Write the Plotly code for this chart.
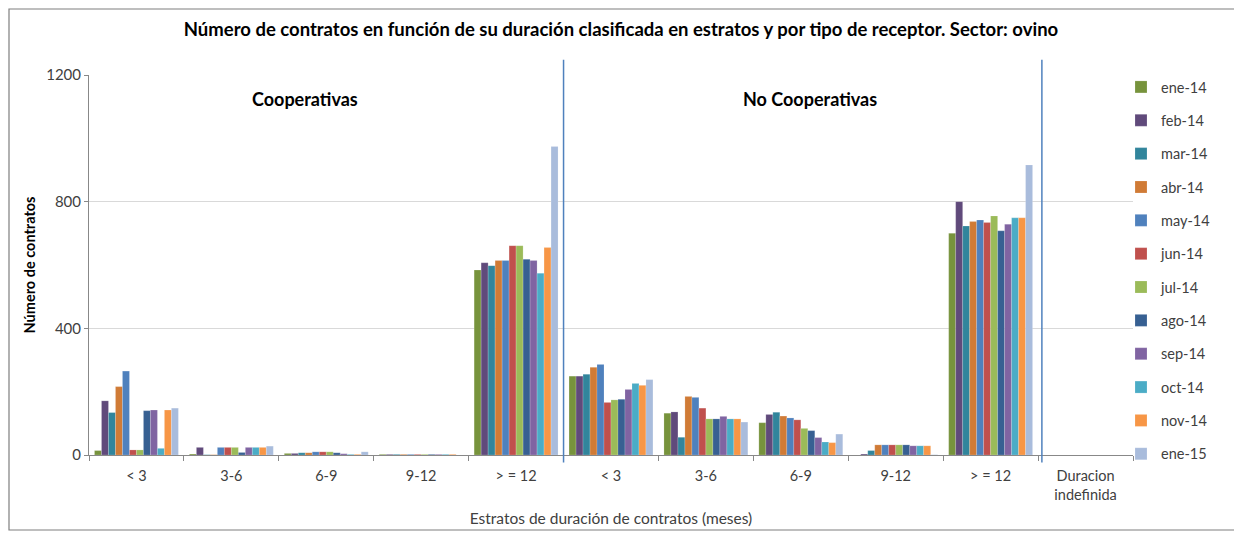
import plotly.graph_objects as go

categories = ["< 3", "3-6", "6-9", "9-12", "> = 12",
              "< 3 ", "3-6 ", "6-9 ", "9-12 ", "> = 12 ", "Duracion<br>indefinida"]
tick_labels = ["< 3", "3-6", "6-9", "9-12", "> = 12",
               "< 3", "3-6", "6-9", "9-12", "> = 12", "Duracion<br>indefinida"]

series_names = ["ene-14", "feb-14", "mar-14", "abr-14", "may-14", "jun-14",
                "jul-14", "ago-14", "sep-14", "oct-14", "nov-14", "ene-15"]

# values per series across the 11 categories
ene_14 = [14, 3, 5, 2, 584, 249, 132, 102, 0, 700, 0]
feb_14 = [171, 24, 5, 2, 607, 249, 136, 128, 3, 800, 0]
mar_14 = [134, 1, 7, 2, 598, 255, 56, 135, 14, 723, 0]
abr_14 = [216, 1, 7, 2, 614, 277, 185, 123, 32, 737, 0]
may_14 = [265, 24, 10, 2, 614, 286, 182, 117, 32, 742, 0]
jun_14 = [16, 24, 10, 2, 661, 166, 148, 111, 32, 734, 0]
jul_14 = [16, 24, 10, 2, 661, 174, 114, 84, 32, 755, 0]
ago_14 = [140, 8, 7, 2, 618, 176, 114, 77, 32, 708, 0]
sep_14 = [142, 24, 4, 2, 614, 207, 122, 55, 29, 729, 0]
oct_14 = [21, 24, 2, 2, 574, 226, 114, 41, 29, 749, 0]
nov_14 = [142, 24, 2, 2, 655, 220, 114, 39, 29, 749, 0]
ene_15 = [148, 28, 10, 0, 974, 238, 104, 66, 1, 916, 0]

series_values = [ene_14, feb_14, mar_14, abr_14, may_14, jun_14,
                 jul_14, ago_14, sep_14, oct_14, nov_14, ene_15]

colors = ["#77933C", "#604A7B", "#31859C", "#D07B36", "#4F81BD", "#C0504D",
          "#9BBB59", "#376092", "#8064A2", "#4BACC6", "#F79646", "#A9BCDC"]

fig = go.Figure()
for name, vals, col in zip(series_names, series_values, colors):
    fig.add_trace(go.Bar(
        x=categories, y=vals, name=name, legendgroup=name,
        marker=dict(color=col, line=dict(color="rgba(255,255,255,0.35)", width=0.5)),
    ))

font_family = "Lato, 'Open Sans', sans-serif"

W, H = 1234, 530          # page adds an 8px body margin
L, R, T, B = 81, 1125, 67, 447
PW, PH = R - L, B - T

fig.update_layout(
    width=W, height=H,
    margin=dict(l=L, r=W - R, t=T, b=H - B, autoexpand=False),
    paper_bgcolor="white", plot_bgcolor="white",
    barmode="group", bargap=0.116, bargroupgap=0,
    font=dict(family=font_family, size=14, color="#404040"),
    title=dict(
        text="<b>Número de contratos en función de su duración clasificada en estratos y por tipo de receptor. Sector: ovino</b>",
        x=(621 - 8) / W, xref="container", y=1 - 22 / H, yref="container",
        xanchor="center", yanchor="middle",
        font=dict(size=18.5, color="black", family=font_family),
    ),
    legend=dict(
        x=(1113 - L) / PW, xanchor="left",
        y=1 + (T - 63) / PH, yanchor="top",
        font=dict(size=14.5, color="#404040"),
        tracegroupgap=11.5, itemwidth=30, traceorder="grouped",
        bgcolor="rgba(0,0,0,0)", maxheight=500,
    ),
    showlegend=True,
)

fig.update_xaxes(
    type="category", automargin=False,
    tickmode="array", tickvals=categories, ticktext=tick_labels,
    tickson="boundaries", ticks="outside", ticklen=5, tickcolor="#888888",
    ticklabelstandoff=8,
    showline=True, linecolor="#888888", linewidth=1,
    showgrid=False,
    tickfont=dict(size=14.5, color="#404040"),
    title=dict(text="Estratos de duración de contratos (meses)",
               font=dict(size=15.5, color="#404040"), standoff=10),
)
fig.update_yaxes(
    range=[0, 1200], tickvals=[0, 400, 800, 1200], automargin=False,
    showgrid=True, gridcolor="#D9D9D9", gridwidth=1,
    ticks="outside", ticklen=4, tickcolor="#888888",
    showline=True, linecolor="#888888", linewidth=1,
    tickfont=dict(size=15, color="#404040"),
    zeroline=False,
    title=dict(text="<b>Número de contratos</b>", font=dict(size=14.5, color="black"), standoff=7),
)

# separators between groups
for xb in [4.5, 9.54]:
    fig.add_shape(type="line", xref="x", yref="paper",
                  x0=xb, x1=xb, y0=-0.02, y1=1.04,
                  line=dict(color="#4F81BD", width=1.5))

# group labels
fig.add_annotation(x=1.78, y=1 - (91 - T) / PH, xref="x", yref="paper",
                   yanchor="middle", xanchor="center",
                   text="<b>Cooperativas</b>", showarrow=False,
                   font=dict(size=18, color="black", family=font_family))
fig.add_annotation(x=7.1, y=1 - (91 - T) / PH, xref="x", yref="paper",
                   yanchor="middle", xanchor="center",
                   text="<b>No Cooperativas</b>", showarrow=False,
                   font=dict(size=18, color="black", family=font_family))

# chart border
fig.add_shape(type="rect", xref="paper", yref="paper",
              x0=(1 - L) / PW, x1=(1227 - L) / PW,
              y0=(B - 522) / PH, y1=(B - 1) / PH,
              line=dict(color="#7F7F7F", width=1.2), fillcolor="rgba(0,0,0,0)")

fig.write_html("out.html")
